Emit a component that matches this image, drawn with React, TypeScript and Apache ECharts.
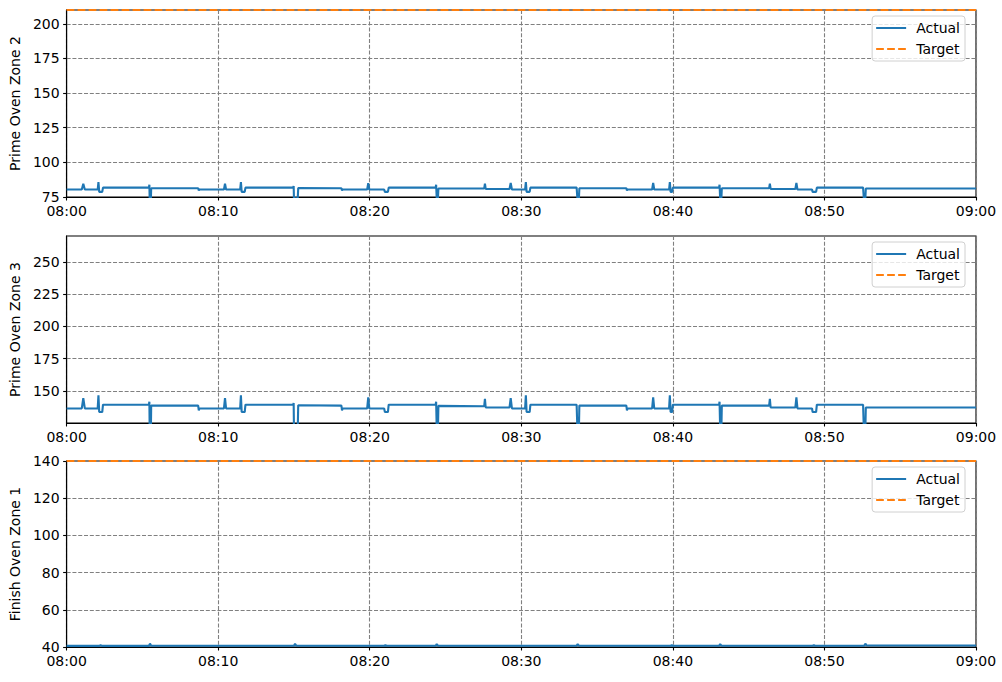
import React, { useEffect, useRef } from "react";
import * as echarts from "echarts";

// minutes after 08:00 (shared by the two Prime Oven panels)
const minutes = [
  0, 1.0, 1.1, 1.2, 2.05, 2.1, 2.15, 2.35, 2.4, 5.43, 5.46, 5.48, 5.56, 5.58, 8.68, 8.72, 8.76,
  10.38, 10.45, 10.52, 11.45, 11.5, 11.55, 11.75, 11.8, 14.95, 14.98, 15.0, 15.25, 15.28,
  18.13, 18.17, 18.21, 19.83, 19.9, 19.97, 20.95, 21.0, 21.2, 21.25, 24.35, 24.38, 24.42, 24.5, 24.53,
  27.55, 27.6, 27.65, 29.22, 29.3, 29.38, 30.25, 30.3, 30.35, 30.55, 30.6, 33.65, 33.7, 33.8, 33.83,
  36.93, 36.97, 37.01, 38.63, 38.7, 38.77, 39.75, 39.8, 39.85, 39.95, 40.0, 43.05, 43.08, 43.12, 43.2, 43.23,
  46.35, 46.4, 46.45, 48.08, 48.15, 48.22, 49.18, 49.22, 49.45, 49.5, 52.55, 52.6, 52.7, 52.73, 60,
];

const primeZone2Actual = [
  80.4, 80.4, 84.6, 80.4, 80.4, 85.8, 78.7, 78.7, 81.8, 81.8, 83.9, 74, 74, 81.3, 81.3, 79.8, 80.4,
  80.4, 84.6, 80.4, 80.4, 85.8, 78.7, 78.7, 81.8, 81.8, 83.0, 74, 74, 81.5,
  81.3, 79.8, 80.4, 80.4, 84.9, 80.4, 80.4, 78.7, 78.7, 81.8, 81.8, 83.9, 74, 74, 81.1,
  81.1, 84.6, 80.8, 80.8, 85.1, 80.4, 80.4, 85.8, 78.7, 78.7, 81.8, 81.8, 74, 74, 81.3,
  81.3, 79.8, 80.4, 80.4, 85.1, 80.4, 80.4, 85.8, 78.7, 78.7, 81.8, 81.8, 83.9, 74, 74, 81.3,
  81.3, 84.6, 80.8, 80.8, 85.1, 80.4, 80.4, 78.7, 78.7, 81.8, 81.8, 74, 74, 81.1, 81.1,
];

const primeZone3Actual = [
  136.3, 136.3, 144.3, 136.3, 136.3, 146.4, 133.5, 133.5, 139.2, 139.2, 141.5, 120, 120, 138.5, 138.5, 134.8, 136.3,
  136.3, 144.3, 136.3, 136.3, 146.4, 133.5, 133.5, 139.2, 139.2, 140.5, 120, 120, 138.8,
  138.5, 134.8, 136.3, 136.3, 144.8, 136.3, 136.3, 133.5, 133.5, 139.2, 139.2, 141.5, 120, 120, 138.3,
  138.0, 143.8, 137.0, 137.0, 144.3, 136.3, 136.3, 146.4, 133.5, 133.5, 139.2, 139.2, 120, 120, 138.5,
  138.5, 134.8, 136.3, 136.3, 144.8, 136.3, 136.3, 146.4, 133.5, 133.5, 139.2, 139.2, 141.5, 120, 120, 138.5,
  138.5, 143.8, 137.0, 137.0, 144.8, 136.3, 136.3, 133.5, 133.5, 139.2, 139.2, 120, 120, 137.0, 137.0,
];

const finishMinutes = [
  0, 2.15, 2.24, 2.33, 5.42, 5.5, 5.58, 15.0, 15.07, 15.15, 20.95, 21.03, 21.12, 24.35, 24.42, 24.5,
  33.65, 33.72, 33.8, 39.85, 39.93, 40.01, 43.05, 43.12, 43.2, 49.22, 49.3, 49.38, 52.62, 52.7, 52.78, 60,
];
const finishZone1Actual = [
  40.6, 40.6, 41.0, 40.6, 40.6, 41.8, 40.7, 40.7, 41.7, 40.7, 40.7, 41.0, 40.65, 40.65, 41.6, 40.7,
  40.7, 41.5, 40.7, 40.7, 41.0, 40.65, 40.65, 41.6, 40.7, 40.7, 41.0, 40.65, 40.65, 41.8, 40.8, 40.8,
];

const targetMinutes = [0, 60];
const primeZone2Target = [210, 210];
const primeZone3Target: number[] = [];
const finishZone1Target = [140, 140];

const panelNames = ["Prime Oven Zone 2", "Prime Oven Zone 3", "Finish Oven Zone 1"];
const yMins = [75, 125, 40];
const yMaxs = [210, 270, 140];
const yIntervals = [25, 25, 20];

const FONT = "DejaVu Sans";
const BLUE = "#1f77b4";
const ORANGE = "#ff7f0e";

function pair(xs: number[], ys: number[]) {
  return ys.map((y, i) => [xs[i], y]);
}

export default function App() {
  const ref = useRef<HTMLDivElement>(null);
  useEffect(() => {
    if (!ref.current) return;
    const chart = echarts.init(ref.current, undefined, { renderer: "svg" });
    const tops = [10, 236, 461];
    const heights = [187, 187, 186];
    const actuals = [
      pair(minutes, primeZone2Actual),
      pair(minutes, primeZone3Actual),
      pair(finishMinutes, finishZone1Actual),
    ];
    const targets = [
      pair(targetMinutes, primeZone2Target),
      pair(targetMinutes, primeZone3Target),
      pair(targetMinutes, finishZone1Target),
    ];
    const gridLine = { show: true, lineStyle: { color: "#808080", type: [4, 1.8] as any, width: 1.1 } };
    const label = { color: "#000", fontFamily: FONT, fontSize: 14 };
    chart.setOption({
      animation: false,
      textStyle: { fontFamily: FONT },
      grid: tops.map((t, i) => ({
        left: 66,
        right: 26,
        top: t,
        height: heights[i],
        show: true,
        borderColor: "#000",
        borderWidth: 1.1,
        backgroundColor: "transparent",
      })),
      xAxis: tops.map((_, i) => ({
        type: "value",
        gridIndex: i,
        min: 0,
        max: 60,
        interval: 10,
        axisLine: { show: true, lineStyle: { color: "#000", width: 1.1 } },
        axisTick: { show: true, length: 3.5, lineStyle: { color: "#000", width: 1.1 } },
        axisLabel: {
          ...label,
          margin: 7,
          formatter: (v: number) => {
            const h = 8 + Math.floor(v / 60);
            const m = v % 60;
            return `${String(h).padStart(2, "0")}:${String(m).padStart(2, "0")}`;
          },
        },
        splitLine: gridLine,
      })),
      yAxis: tops.map((_, i) => ({
        type: "value",
        gridIndex: i,
        min: yMins[i],
        max: yMaxs[i],
        interval: yIntervals[i],
        name: panelNames[i],
        nameLocation: "middle",
        nameGap: 43,
        nameTextStyle: { color: "#000", fontFamily: FONT, fontSize: 14 },
        axisLine: { show: true, lineStyle: { color: "#000", width: 1.1 } },
        axisTick: { show: true, length: 3.5, lineStyle: { color: "#000", width: 1.1 } },
        axisLabel: { ...label, margin: 7, showMinLabel: i !== 1, showMaxLabel: i === 2 },
        splitLine: gridLine,
      })),
      legend: tops.map((t) => ({
        orient: "vertical",
        right: 37,
        top: t + 6,
        data: ["Actual", "Target"],
        itemWidth: 30,
        itemHeight: 14,
        itemGap: 7,
        padding: [5, 5, 5, 3],
        backgroundColor: "rgba(255,255,255,0.8)",
        borderColor: "#d0d0d0",
        borderWidth: 1,
        borderRadius: 3,
        itemStyle: { opacity: 0 },
        textStyle: { color: "#000", fontFamily: FONT, fontSize: 14, padding: [0, 0, 0, 5] },
        selectedMode: false,
      })),
      series: tops.flatMap((_, i) => [
        {
          type: "line",
          name: "Actual",
          xAxisIndex: i,
          yAxisIndex: i,
          data: actuals[i],
          symbol: "none",
          lineStyle: { color: BLUE, width: 2.1 },
          itemStyle: { color: BLUE },
          clip: true,
          z: 3,
        },
        {
          type: "line",
          name: "Target",
          xAxisIndex: i,
          yAxisIndex: i,
          data: targets[i],
          symbol: "none",
          lineStyle: { color: ORANGE, width: 2.1, type: [7.7, 3.3] as any },
          itemStyle: { color: ORANGE },
          clip: true,
          z: 2,
        },
      ]),
    });
    return () => chart.dispose();
  }, []);
  return (
    <div
      ref={ref}
      style={{ position: "fixed", left: 0, top: 0, width: 1002, height: 682, background: "#fff" }}
    />
  );
}
